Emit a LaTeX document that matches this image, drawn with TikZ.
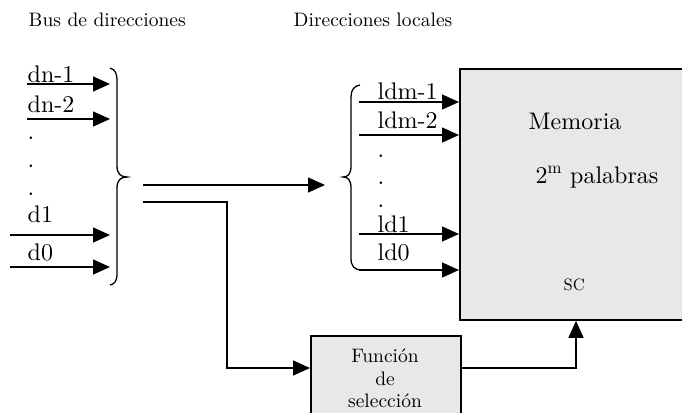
\documentclass[tikz,border=0pt]{standalone}
\usepackage{fontspec}
\setmainfont{lmroman10-regular.otf}[BoldFont=lmroman10-bold.otf,ItalicFont=lmroman10-italic.otf]
\usetikzlibrary{arrows.meta}
\definecolor{boxgray}{HTML}{E8E8E8}
\begin{document}
\begin{tikzpicture}[x=1pt,y=-1pt,
  line width=1.4pt,
  arr/.style={-{Triangle[length=17pt,width=15pt]}},
  lab/.style={font=\fontsize{24}{28}\selectfont, inner sep=0pt, anchor=base west},
  head/.style={font=\fontsize{19.5}{23}\selectfont, inner sep=0pt, anchor=base west},
  ftext/.style={font=\fontsize{19.5}{23}\selectfont, inner sep=0pt, anchor=base},
  dotl/.style={font=\fontsize{24}{28}\selectfont, inner sep=0pt, anchor=base west},
  blockbox/.style={draw, fill=boxgray, line width=1.8pt, inner sep=0pt, anchor=north west}
]
\useasboundingbox (0,0) rectangle (682,412);
\clip (0,0) rectangle (682,412);

% headings
\node[head] (h1) at (28,27) {Bus de direcciones};
\node[head] (h2) at (293,27) {Direcciones locales};

% memory and selection boxes
\node[blockbox, minimum width=245pt, minimum height=251pt] (mem) at (459,68) {};
\node[blockbox, minimum width=150pt, minimum height=100pt] (fsel) at (310,335) {};

\node[lab] (t1) at (528,129) {Memoria};
\node[lab] (t2) at (535,183) {2\textsuperscript{m} palabras};
\node[font=\fontsize{16.5}{19}\selectfont, inner sep=0pt, anchor=base west] (t3) at (563,290) {SC};

\node[ftext] (f1) at (385,362) {Función};
\node[ftext] (f2) at (385,385) {de};
\node[ftext] (f3) at (385,407) {selección};

% left inputs
\coordinate (a1) at (27,84);
\coordinate (a2) at (27,119);
\coordinate (a3) at (10,235);
\coordinate (a4) at (10,267);
\coordinate (lb) at (110,0);
\draw[arr] (a1) -- (a1 -| lb);
\draw[arr] (a2) -- (a2 -| lb);
\draw[arr] (a3) -- (a3 -| lb);
\draw[arr] (a4) -- (a4 -| lb);
\node[lab] (dn1) at (27,82) {dn-1};
\node[lab] (dn2) at (27,112) {dn-2};
\node[dotl] (p1) at (27,139) {.};
\node[dotl] (p2) at (27,167) {.};
\node[dotl] (p3) at (27,195) {.};
\node[lab] (dd1) at (27,222) {d1};
\node[lab] (dd0) at (27,260) {d0};

% left brace
\draw[line width=1.3pt] (110,68) .. controls (116,70) and (117,74) .. (117,82)
  -- (117,166) .. controls (117,174) and (121,177) .. (127,177)
  .. controls (121,177) and (117,180) .. (117,188)
  -- (117,273) .. controls (117,281) and (115,284) .. (110,285);

% middle connectors
\coordinate (m1) at (143,185);
\coordinate (m1e) at (325,185);
\draw[arr] (m1) -- (m1e);
\coordinate (m2) at (143,202);
\coordinate (m2c) at (227,202);
\draw[arr] (m2) -- (m2c) -- (m2c |- 0,368) -- (fsel.west |- 0,368);
\coordinate (fo) at (576,368);
\draw[arr] (fsel.east |- fo) -- (fo) -- (fo |- mem.south);

% right brace
\draw[line width=1.3pt] (360,85) .. controls (354,86) and (351,90) .. (351,97)
  -- (351,166) .. controls (351,174) and (348,177) .. (343,177)
  .. controls (348,177) and (351,180) .. (351,188)
  -- (351,258) .. controls (351,266) and (354,270) .. (362,270);

% local address lines
\coordinate (b1) at (359,102);
\coordinate (b2) at (359,135);
\coordinate (b3) at (359,234);
\coordinate (b4) at (359,270);
\draw[arr] (b1) -- (b1 -| mem.west);
\draw[arr] (b2) -- (b2 -| mem.west);
\draw[arr] (b3) -- (b3 -| mem.west);
\draw[arr] (b4) -- (b4 -| mem.west);
\node[lab] (l1) at (377,99) {ldm-1};
\node[lab] (l2) at (377,128) {ldm-2};
\node[dotl] (q1) at (377,157) {.};
\node[dotl] (q2) at (377,184) {.};
\node[dotl] (q3) at (377,207) {.};
\node[lab] (l3) at (377,232) {ld1};
\node[lab] (l4) at (377,260) {ld0};
\end{tikzpicture}
\end{document}
